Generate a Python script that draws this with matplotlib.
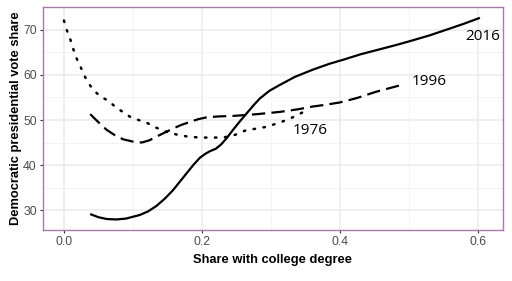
import matplotlib
matplotlib.use("Agg")
import matplotlib.pyplot as plt

# 2016 (solid)
x2016 = [0.038, 0.05, 0.062, 0.076, 0.09, 0.11, 0.122, 0.134, 0.146, 0.158, 0.168, 0.178, 0.188,
         0.197, 0.205, 0.212, 0.22, 0.228, 0.236, 0.245, 0.255, 0.265, 0.275, 0.284, 0.298,
         0.313, 0.335, 0.361, 0.385, 0.405, 0.43, 0.455, 0.48, 0.501, 0.53, 0.559, 0.58, 0.603]
y2016 = [29.1, 28.4, 28.0, 27.9, 28.1, 28.9, 29.7, 30.9, 32.5, 34.4, 36.3, 38.2, 40.1,
         41.6, 42.5, 43.1, 43.6, 44.6, 46.0, 47.8, 49.7, 51.5, 53.3, 54.8, 56.5,
         57.8, 59.6, 61.2, 62.5, 63.4, 64.6, 65.6, 66.6, 67.5, 68.8, 70.3, 71.4, 72.7]

# 1996 (dashed)
x1996 = [0.038, 0.05, 0.062, 0.074, 0.086, 0.1, 0.113, 0.124, 0.134, 0.146, 0.158, 0.17, 0.183,
         0.195, 0.207, 0.225, 0.245, 0.28, 0.313, 0.34, 0.361, 0.38, 0.4, 0.425, 0.453, 0.475, 0.492]
y1996 = [51.3, 49.5, 47.8, 46.6, 45.7, 45.2, 45.0, 45.5, 46.3, 47.2, 48.1, 48.9, 49.6,
         50.2, 50.6, 50.8, 50.9, 51.3, 51.8, 52.4, 53.0, 53.4, 53.9, 54.9, 56.3, 57.2, 57.9]

# 1976 (dotted)
x1976 = [0.0, 0.004, 0.009, 0.0126, 0.017, 0.023, 0.028, 0.034, 0.042, 0.052, 0.064, 0.074,
         0.085, 0.096, 0.108, 0.12, 0.132, 0.148, 0.165, 0.18, 0.197, 0.212, 0.231, 0.248,
         0.265, 0.28, 0.294, 0.31, 0.323, 0.34, 0.354]
y1976 = [72.1, 70.0, 68.0, 66.2, 64.1, 62.2, 60.4, 58.5, 56.8, 55.3, 54.3, 53.0,
         51.8, 50.7, 50.0, 49.4, 48.4, 47.4, 46.7, 46.3, 46.1, 46.1, 46.1, 46.7,
         47.8, 48.1, 48.5, 49.3, 50.0, 51.2, 52.4]

labels = ["2016", "1996", "1976"]
label_pos = [(0.6065, 68.5), (0.529, 58.5), (0.357, 47.6)]

xticks = [0.0, 0.2, 0.4, 0.6]
yticks = [30, 40, 50, 60, 70]

fig = plt.figure(figsize=(5.12, 2.81), dpi=100)
ax = fig.add_axes([43/512, 1 - 230/281, (502.7 - 43)/512, (230 - 7.3)/281])

ax.plot(x2016, y2016, color="black", lw=1.6, solid_capstyle="butt")
ax.plot(x1996, y1996, color="black", lw=1.6, dashes=(6, 2.8))
ax.plot(x1976, y1976, color="black", lw=1.8, linestyle=(0, (0.6, 3.4)), dash_capstyle="round")

for t, (lx, ly) in zip(labels, label_pos):
    ax.text(lx, ly, t, ha="center", va="center", fontsize=11, family="Open Sans", color="black")

ax.set_xlim(-0.0304, 0.636)
ax.set_ylim(25.56, 75.04)
ax.set_xticks(xticks)
ax.set_xticklabels(["0.0", "0.2", "0.4", "0.6"])
ax.set_yticks(yticks)
ax.set_xticks([0.1, 0.3, 0.5], minor=True)
ax.set_yticks([35, 45, 55, 65], minor=True)
ax.grid(True, which="major", color="#ebebeb", lw=1.1)
ax.grid(True, which="minor", color="#f2f2f2", lw=0.6)
ax.set_axisbelow(True)
ax.tick_params(which="major", length=2.5, width=0.8, color="#333333", labelsize=8.8,
               labelcolor="#4d4d4d", pad=2)
ax.tick_params(which="minor", length=0)
for s in ax.spines.values():
    s.set_color("#a57ca6")
    s.set_linewidth(1.0)

ax.set_xlabel("Share with college degree", fontsize=9.3, fontweight="bold",
              family="Liberation Sans", labelpad=4)
ax.set_ylabel("Democratic presidential vote share", fontsize=9.3, fontweight="bold",
              family="Liberation Sans", labelpad=0.5)
for lab in ax.get_xticklabels() + ax.get_yticklabels():
    lab.set_family("Liberation Sans")

fig.savefig("out.png", dpi=100)
